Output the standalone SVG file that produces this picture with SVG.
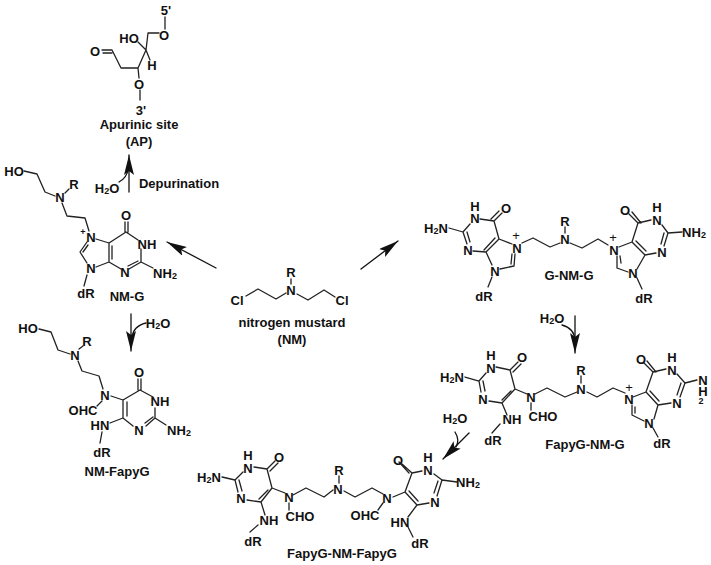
<svg xmlns="http://www.w3.org/2000/svg" width="711" height="565" viewBox="0 0 711 565">
<style>
text{font-family:"Liberation Sans",Arial,sans-serif;font-size:13px;font-weight:bold;fill:#111;text-anchor:middle;dominant-baseline:central}
.s{font-size:9px}
.p{font-weight:normal;font-size:13px}
path{fill:none;stroke:#222;stroke-width:1.3;stroke-linejoin:round;stroke-linecap:round}
.c path{stroke:#111;stroke-width:1.3}
</style>
<defs>
<marker id="ah" viewBox="0 0 20 10" refX="20" refY="5" markerWidth="20" markerHeight="10" markerUnits="userSpaceOnUse" orient="auto"><polygon points="0,0 20,5 0,10 4,5" fill="#111"/></marker>
</defs>
<rect width="711" height="565" fill="#fff"/>
<g id="connectors" class="c">
<path d="M129 192V155" marker-end="url(#ah)"/>
<path d="M119 182Q127 178 129 167"/>
<path d="M216 268L167 242" marker-end="url(#ah)"/>
<path d="M361 269L398 241" marker-end="url(#ah)"/>
<path d="M131 314V351" marker-end="url(#ah)"/>
<path d="M146 323Q133 326 132 338"/>
<path d="M575 316V353" marker-end="url(#ah)"/>
<path d="M562 325Q574 328 575 340"/>
<path d="M469 433L443 459" marker-end="url(#ah)"/>
<path d="M455 432Q460 440 456 447"/>
</g>
<g id="ap-site">
<path d="M165 17V29M159 33H148L146 50L138 68H121L112 50H102M112 53H103M138 42L146 50M146 50L150 60M138 68L139 78M140 90V100"/>
<text x="166" y="10">5'</text><text x="164" y="35">O</text><text x="129" y="38">HO</text><text x="152" y="65">H</text><text x="95" y="51">O</text><text x="139" y="84">O</text><text x="141" y="110">3'</text>
<text x="139" y="124">Apurinic site</text><text x="139" y="141">(AP)</text>
</g>
<g id="depurination">
<text x="107" y="188">H<tspan class="s" dy="3">2</tspan><tspan dy="-3">O</tspan></text>
<text x="179" y="183">Depurination</text>
</g>
<g id="nm-g">
<path d="M24 171L37 174L45 192L55 196M65 193L69 189M62 203L67 216L85 218L89 231M96 239L109 243L126 232L138 240M125 232V222M128 232V222M109 243V262M112 246V259M141 249V262L129 269M138 261L128 266M121 269L109 262L96 267M87 263L80 252L87 242M83 252L88 245M153 268L141 262M87 275L84 286"/>
<text x="14" y="171">HO</text><text x="60" y="197">N</text><text x="74" y="184">R</text><text x="91" y="237">N</text><text x="83" y="232" class="s">+</text><text x="126" y="215">O</text><text x="147" y="244">NH</text><text x="125" y="272">N</text><text x="91" y="268">N</text><text x="165" y="273">NH<tspan class="s" dy="3">2</tspan></text><text x="86" y="293">dR</text>
<text x="127" y="296">NM-G</text>
</g>
<g id="h2o-nm-g"><text x="158" y="323">H<tspan class="s" dy="3">2</tspan><tspan dy="-3">O</tspan></text></g>
<g id="nm-fapyg">
<path d="M39 329L51 332L58 350L70 354M79 349L83 346M78 361L82 371L99 376L103 389M111 396L123 400L140 390L153 397M138 390V379M141 390V379M123 400V418M127 402V416M155 408V418L146 426M153 417L145 423M133 426L123 418L110 423M166 425L155 418M102 432L100 443M102 401L97 406"/>
<text x="28" y="328">HO</text><text x="75" y="355">N</text><text x="87" y="341">R</text><text x="105" y="395">N</text><text x="139" y="372">O</text><text x="160" y="401">NH</text><text x="139" y="430">N</text><text x="179" y="430">NH<tspan class="s" dy="3">2</tspan></text><text x="100" y="425">HN</text><text x="83" y="410">OHC</text><text x="102" y="452">dR</text>
<text x="117" y="471">NM-FapyG</text>
</g>
<g id="nitrogen-mustard">
<path d="M291 279V284M286 293L276 299L258 289L246 296M297 294L308 300L324 290L335 297"/>
<text x="291" y="272">R</text><text x="291" y="290">N</text><text x="237" y="300">Cl</text><text x="342" y="300">Cl</text>
<text x="292" y="322">nitrogen mustard</text><text x="292" y="339">(NM)</text>
</g>
<g id="g-nm-g">
<path d="M449 228L463 232L470 224M480 219L494 221L499 239L512 244M463 232L467 244M467 232L470 242M473 251L486 252L499 239M484 250L495 238M494 221L502 213M491 219L499 211M486 252L492 265M500 269L514 266L515 254M511 264L512 254M492 277L488 287M522 243L533 238L550 247L560 243M565 227V233M570 243L582 248L598 239L608 245M617 256L617 268L628 272M621 263L620 256M637 269L645 255L632 242L619 247M646 251L636 241M632 242L638 223L629 214M641 223L632 212M638 223L651 220M662 225L668 233L664 246M664 233L661 244M668 233L682 232M656 253L645 255M637 278L642 289"/>
<text x="475" y="206">H</text><text x="475" y="218">N</text><text x="506" y="208">O</text><text x="436" y="228">H<tspan class="s" dy="3">2</tspan><tspan dy="-3">N</tspan></text><text x="468" y="250">N</text><text x="517" y="248">N</text><text x="516" y="235" class="p">+</text><text x="495" y="271">N</text><text x="484" y="296">dR</text>
<text x="565" y="239">N</text><text x="565" y="221">R</text>
<text x="614" y="250">N</text><text x="613" y="237" class="p">+</text><text x="633" y="273">N</text><text x="625" y="210">O</text><text x="657" y="207">H</text><text x="657" y="220">N</text><text x="694" y="232">NH<tspan class="s" dy="3">2</tspan></text><text x="662" y="252">N</text><text x="644" y="298">dR</text>
<text x="569" y="275">G-NM-G</text>
</g>
<g id="h2o-g-nm-g"><text x="552" y="318">H<tspan class="s" dy="3">2</tspan><tspan dy="-3">O</tspan></text></g>
<g id="fapyg-nm-g">
<path d="M465 377L479 381L486 373M496 367L510 370L515 389L502 403L489 401M479 381L481 392M483 381L485 391M511 391L502 400M510 370L518 362M513 372L521 364M515 389L527 394M502 403L507 415M500 424L492 433M531 403V410M535 394L547 388L565 397L577 392M581 376V383M587 392L597 397L613 388L625 393M632 405V415L644 421M635 407V413M654 419L658 405L646 392L633 397M659 401L650 391M646 392L653 372L644 363M656 372L647 361M653 372L666 369M677 374L685 383L680 397M681 383L677 395M685 383L697 380M671 403L658 405M653 428L658 437"/>
<text x="491" y="355">H</text><text x="491" y="368">N</text><text x="522" y="357">O</text><text x="452" y="377">H<tspan class="s" dy="3">2</tspan><tspan dy="-3">N</tspan></text><text x="483" y="399">N</text><text x="512" y="419">NH</text><text x="493" y="440">dR</text><text x="531" y="397">N</text><text x="543" y="416">CHO</text><text x="581" y="389">N</text><text x="581" y="370">R</text>
<text x="629" y="399">N</text><text x="629" y="387" class="p">+</text><text x="649" y="423">N</text><text x="641" y="359">O</text><text x="672" y="357">H</text><text x="672" y="370">N</text><text x="677" y="403">N</text><text x="703" y="380">N</text><text x="703" y="391">H</text><text x="701" y="401" class="s">2</text><text x="662" y="443">dR</text>
<text x="585" y="444">FapyG-NM-G</text>
</g>
<g id="h2o-fapyg"><text x="455" y="418">H<tspan class="s" dy="3">2</tspan><tspan dy="-3">O</tspan></text></g>
<g id="fapyg-nm-fapyg">
<path d="M222 477L235 480L243 472M254 467L267 469L272 488L261 502L247 500M235 480L238 492M239 480L242 491M268 490L259 499M267 469L275 461M270 471L278 463M272 488L285 493M261 502L265 515M258 525L250 532M289 503V510M293 495L306 488L324 497L333 490M339 476V483M344 491L355 497L372 488L383 494M393 497L405 492L412 473L402 464M409 473L399 462M412 473L422 471M405 492L417 505L429 503M409 491L418 501M434 474L442 480L437 496M438 481L434 493M442 480L457 482M417 505L408 517M408 527L413 537M383 503L378 510"/>
<text x="248" y="455">H</text><text x="248" y="468">N</text><text x="279" y="457">O</text><text x="209" y="477">H<tspan class="s" dy="3">2</tspan><tspan dy="-3">N</tspan></text><text x="241" y="498">N</text><text x="269" y="520">NH</text><text x="253" y="541">dR</text><text x="289" y="497">N</text><text x="300" y="516">CHO</text><text x="338" y="489">N</text><text x="339" y="470">R</text><text x="387" y="498">N</text><text x="365" y="515">OHC</text><text x="398" y="460">O</text><text x="428" y="457">H</text><text x="428" y="470">N</text><text x="468" y="482">NH<tspan class="s" dy="3">2</tspan></text><text x="435" y="502">N</text><text x="400" y="522">HN</text><text x="420" y="543">dR</text>
<text x="342" y="553">FapyG-NM-FapyG</text>
</g>
</svg>
